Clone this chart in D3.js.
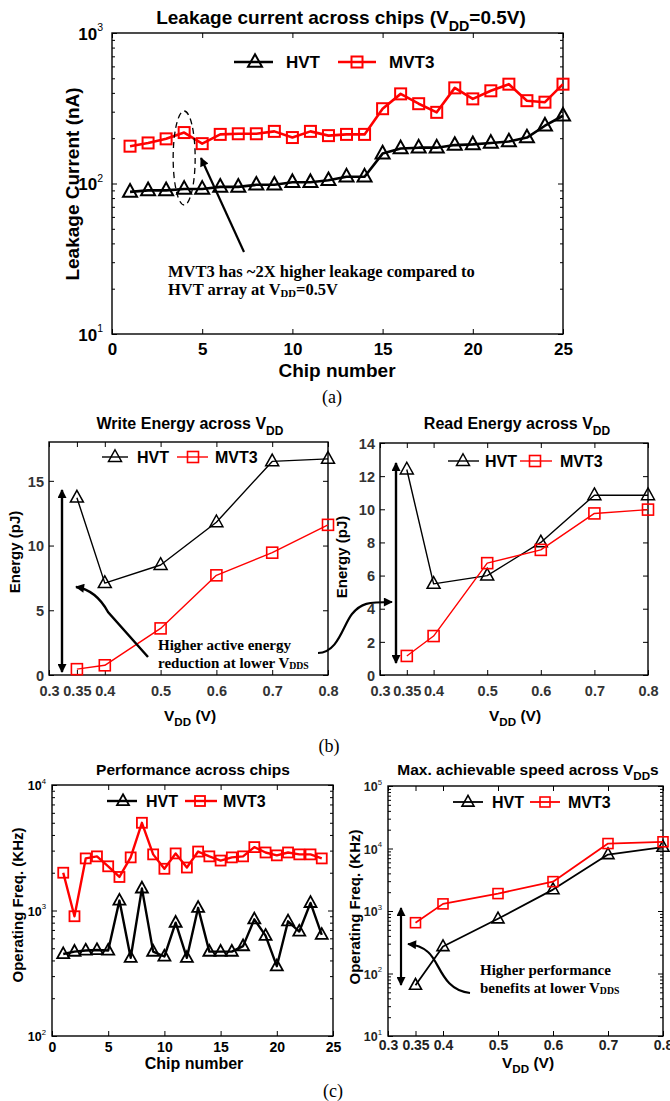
<!DOCTYPE html>
<html>
<head>
<meta charset="utf-8">
<script src="https://cdn.jsdelivr.net/npm/d3@7"></script>
<style>
  body { margin: 0; background: #fff; }
  svg { display: block; }
  text { font-family: "Liberation Sans", Arial, sans-serif; }
  .serif { font-family: "Liberation Serif", "Times New Roman", serif; }
</style>
</head>
<body>
<svg id="chart" width="670" height="1101"></svg>
<script>
// ---- data ----
// (a) leakage at VDD=0.5V, nA
const chipsA = [1, 2, 3, 4, 5, 6, 7, 8, 9, 10, 11, 12, 13, 14, 15, 16, 17, 18, 19, 20, 21, 22, 23, 24, 25];
const leakHVT = [88, 90, 90, 92, 92, 95, 95, 98, 98, 102, 102, 105, 111, 111, 158, 171, 173, 173, 180, 182, 186, 190, 202, 242, 282];
const leakMVT3 = [177, 186, 198, 218, 184, 212, 214, 214, 222, 202, 222, 208, 212, 212, 314, 394, 339, 297, 432, 365, 413, 457, 355, 347, 457];
// (b) energy vs VDD, pJ
const vdd = [0.35, 0.4, 0.5, 0.6, 0.7, 0.8];
const writeHVT = [13.7, 7.1, 8.5, 11.8, 16.5, 16.7];
const writeMVT3 = [0.45, 0.75, 3.6, 7.7, 9.45, 11.6];
const readHVT = [12.4, 5.5, 6.0, 8.0, 10.85, 10.85];
const readMVT3 = [1.15, 2.35, 6.75, 7.55, 9.75, 9.98];
// (c) operating frequency, KHz
const chipsC = [1, 2, 3, 4, 5, 6, 7, 8, 9, 10, 11, 12, 13, 14, 15, 16, 17, 18, 19, 20, 21, 22, 23, 24];
const perfHVT = [450, 470, 480, 485, 480, 1200, 420, 1500, 470, 430, 800, 420, 1050, 470, 470, 470, 520, 850, 630, 360, 820, 680, 1150, 640];
const perfMVT3 = [2000, 900, 2600, 2700, 2250, 1850, 2650, 5000, 2800, 2150, 2850, 2200, 2950, 2700, 2500, 2650, 2700, 3200, 2900, 2750, 2900, 2800, 2800, 2600];
const speedHVT = [65, 270, 750, 2200, 8000, 10500];
const speedMVT3 = [650, 1300, 1900, 2950, 12000, 12800];
// tick labels
const chipTicks = [0, 5, 10, 15, 20, 25];
const vddTicks = [0.3, 0.35, 0.4, 0.5, 0.6, 0.7, 0.8];
const writeTicks = [0, 5, 10, 15];
const readTicks = [0, 2, 4, 6, 8, 10, 12, 14];

const svg = d3.select("#chart");

// arrow heads
const defs = svg.append("defs");
defs.append("marker")
    .attr("id", "ah")
    .attr("viewBox", "0 0 10 10")
    .attr("refX", 9).attr("refY", 5)
    .attr("markerUnits", "userSpaceOnUse")
    .attr("markerWidth", 12).attr("markerHeight", 9)
    .attr("orient", "auto-start-reverse")
    .append("path").attr("d", "M0,0 L10,5 L0,10 Z").attr("fill", "#000");

function triPath(s) {
    var h = s * 0.9;
    return "M0," + (-h * 0.62) + " L" + (s / 2) + "," + (h * 0.38) + " L" + (-s / 2) + "," + (h * 0.38) + " Z";
}

// build one axes box with matlab-like inward ticks
function panel(o) {
    var g = svg.append("g");
    var x = d3.scaleLinear().domain(o.xd).range([o.l, o.r]);
    var y = (o.log ? d3.scaleLog() : d3.scaleLinear()).domain(o.yd).range([o.b, o.t]);
    var yMajor = o.log ? y.ticks().filter(function(v) { return Math.abs(Math.log10(v) % 1) < 1e-9; }) : o.yTicks;
    var yMinor = o.log ? y.ticks().filter(function(v) { return yMajor.indexOf(v) < 0; }) : [];

    function clean(sel) { sel.select(".domain").remove(); sel.selectAll("line").attr("stroke", "#000"); }

    // ticks (inside, all four sides)
    g.append("g").attr("transform", "translate(0," + o.b + ")")
        .call(d3.axisBottom(x).tickValues(o.xTicks).tickSize(-5).tickFormat("")).call(clean);
    g.append("g").attr("transform", "translate(0," + o.t + ")")
        .call(d3.axisTop(x).tickValues(o.xTicks).tickSize(-5).tickFormat("")).call(clean);
    g.append("g").attr("transform", "translate(" + o.l + ",0)")
        .call(d3.axisLeft(y).tickValues(yMajor).tickSize(-5).tickFormat("")).call(clean);
    g.append("g").attr("transform", "translate(" + o.r + ",0)")
        .call(d3.axisRight(y).tickValues(yMajor).tickSize(-5).tickFormat("")).call(clean);
    if (yMinor.length) {
        g.append("g").attr("transform", "translate(" + o.l + ",0)")
            .call(d3.axisLeft(y).tickValues(yMinor).tickSize(-3).tickFormat("")).call(clean);
        g.append("g").attr("transform", "translate(" + o.r + ",0)")
            .call(d3.axisRight(y).tickValues(yMinor).tickSize(-3).tickFormat("")).call(clean);
    }

    // x tick labels
    var xl = g.append("g").attr("transform", "translate(0," + o.b + ")")
        .call(d3.axisBottom(x).tickValues(o.xTicks).tickSize(0).tickFormat(o.xFmt || d3.format("")));
    xl.select(".domain").remove();
    xl.selectAll("text").attr("y", o.xLabY - o.b).attr("dy", 0)
        .attr("font-family", null).attr("font-size", o.tick).attr("font-weight", "bold").attr("fill", o.tickColor);

    // y tick labels
    var yl = g.append("g").attr("transform", "translate(" + o.l + ",0)")
        .call(d3.axisLeft(y).tickValues(yMajor).tickSize(0).tickPadding(o.yPad)
            .tickFormat(o.log ? function() { return "10"; } : d3.format("")));
    yl.select(".domain").remove();
    yl.selectAll("text").attr("font-family", null).attr("font-size", o.ytick || o.tick)
        .attr("font-weight", "bold").attr("fill", o.tickColor).attr("dy", "0.36em");
    if (o.log) {
        yl.selectAll("text").append("tspan")
            .attr("font-size", (o.ytick || o.tick) * 0.62).attr("font-weight", "normal")
            .attr("dy", -(o.ytick || o.tick) * 0.5)
            .text(function(d) { return Math.round(Math.log10(d)); });
    }

    // box
    g.append("rect").attr("x", o.l).attr("y", o.t)
        .attr("width", o.r - o.l).attr("height", o.b - o.t)
        .attr("fill", "none").attr("stroke", "#000").attr("stroke-width", 1.4);

    return { g: g, x: x, y: y };
}

function series(p, xs, ys, color, lw, marker, ms, mw) {
    var pts = xs.map(function(v, i) { return [v, ys[i]]; });
    var line = d3.line().x(function(d) { return p.x(d[0]); }).y(function(d) { return p.y(d[1]); });
    p.g.append("path").datum(pts).attr("d", line)
        .attr("fill", "none").attr("stroke", color).attr("stroke-width", lw).attr("stroke-linejoin", "round");
    var m = p.g.selectAll(null).data(pts).enter();
    if (marker === "tri") {
        m.append("path").attr("d", triPath(ms))
            .attr("transform", function(d) { return "translate(" + p.x(d[0]) + "," + p.y(d[1]) + ")"; })
            .attr("fill", "none").attr("stroke", color).attr("stroke-width", mw);
    } else {
        m.append("rect").attr("x", function(d) { return p.x(d[0]) - ms / 2; })
            .attr("y", function(d) { return p.y(d[1]) - ms / 2; })
            .attr("width", ms).attr("height", ms)
            .attr("fill", "none").attr("stroke", color).attr("stroke-width", mw);
    }
}

function legendItem(x1, x2, xm, y, color, lw, marker, ms, mw, label, tx, fs) {
    svg.append("line").attr("x1", x1).attr("x2", x2).attr("y1", y).attr("y2", y)
        .attr("stroke", color).attr("stroke-width", lw);
    if (marker === "tri") {
        svg.append("path").attr("d", triPath(ms)).attr("transform", "translate(" + xm + "," + y + ")")
            .attr("fill", "none").attr("stroke", color).attr("stroke-width", mw);
    } else {
        svg.append("rect").attr("x", xm - ms / 2).attr("y", y - ms / 2).attr("width", ms).attr("height", ms)
            .attr("fill", "none").attr("stroke", color).attr("stroke-width", mw);
    }
    svg.append("text").attr("x", tx).attr("y", y + fs * 0.36)
        .attr("font-size", fs).attr("font-weight", "bold").text(label);
}

// text with a subscript piece: parts = [[text, sub?], ...]
function richText(x, y, parts, fs, opts) {
    opts = opts || {};
    var t = svg.append("text").attr("x", x).attr("y", y).attr("font-size", fs)
        .attr("font-weight", "bold").attr("text-anchor", opts.anchor || "start");
    if (opts.serif) t.attr("class", "serif");
    if (opts.rotate) t.attr("transform", "rotate(-90," + x + "," + y + ")");
    var prevSub = false;
    parts.forEach(function(pt) {
        var s = t.append("tspan").text(pt[0]);
        var off = opts.subOff || fs * 0.35;
        if (pt[1] && !prevSub) s.attr("dy", off).attr("font-size", fs * (opts.subScale || 0.75));
        if (!pt[1] && prevSub) s.attr("dy", -off);
        prevSub = !!pt[1];
    });
    return t;
}

// ================= (a) =================
var pa = panel({ l: 112, r: 563, t: 33, b: 334, xd: [0, 25], yd: [10, 1000], log: true,
    xTicks: chipTicks, xLabY: 355, tick: 17, ytick: 17, yPad: 9, tickColor: "#000" });
series(pa, chipsA, leakHVT, "#000", 2.6, "tri", 14, 2);
series(pa, chipsA, leakMVT3, "#ff0000", 2.6, "sq", 11, 2);
richText(341, 24, [["Leakage current across chips (V"], ["DD", true], ["=0.5V)"]], 19, { anchor: "middle" });
legendItem(234, 273, 255, 62, "#000", 2.6, "tri", 14, 2, "HVT", 286, 17);
legendItem(338, 376, 357, 62, "#ff0000", 2.6, "sq", 11, 2, "MVT3", 389, 17);
svg.append("text").attr("x", 337).attr("y", 377).attr("text-anchor", "middle")
    .attr("font-size", 19).attr("font-weight", "bold").text("Chip number");
svg.append("text").attr("transform", "translate(79,184) rotate(-90)").attr("text-anchor", "middle")
    .attr("font-size", 19).attr("font-weight", "bold").text("Leakage Current (nA)");
// highlighted chip 4
svg.append("ellipse").attr("cx", pa.x(4)).attr("cy", 158).attr("rx", 11).attr("ry", 47)
    .attr("fill", "none").attr("stroke", "#000").attr("stroke-width", 1.3).attr("stroke-dasharray", "6,4");
svg.append("line").attr("x1", 244).attr("y1", 252).attr("x2", 201).attr("y2", 158)
    .attr("stroke", "#000").attr("stroke-width", 2.2).attr("marker-end", "url(#ah)");
richText(168, 277, [["MVT3 has ~2X higher leakage compared to"]], 16.5, { serif: true });
richText(168, 295, [["HVT array at V"], ["DD", true], ["=0.5V"]], 16.5, { serif: true, subScale: 0.65, subOff: 1.5 });
svg.append("text").attr("class", "serif").attr("x", 332).attr("y", 403).attr("text-anchor", "middle")
    .attr("font-size", 18).text("(a)");

// ================= (b) =================
var pb1 = panel({ l: 49, r: 328, t: 442, b: 675, xd: [0.3, 0.8], yd: [0, 18],
    xTicks: vddTicks, yTicks: writeTicks, xLabY: 696, tick: 14.5, yPad: 5, tickColor: "#333" });
series(pb1, vdd, writeHVT, "#000", 1.4, "tri", 13, 1.5);
series(pb1, vdd, writeMVT3, "#ff0000", 1.4, "sq", 11, 1.6);
richText(190, 429, [["Write Energy across V"], ["DD", true]], 16, { anchor: "middle" });
legendItem(102, 128, 115, 457, "#000", 1.4, "tri", 13, 1.5, "HVT", 137, 16);
legendItem(177, 208, 193, 457, "#ff0000", 1.4, "sq", 11, 1.6, "MVT3", 215, 16);
richText(20, 552, [["Energy (pJ)"]], 15, { anchor: "middle", rotate: true });
richText(190, 721, [["V"], ["DD", true], [" (V)"]], 15.5, { anchor: "middle" });
svg.append("line").attr("x1", 62).attr("x2", 62).attr("y1", 490).attr("y2", 672)
    .attr("stroke", "#000").attr("stroke-width", 2.4)
    .attr("marker-start", "url(#ah)").attr("marker-end", "url(#ah)");
svg.append("path").attr("d", "M148,657 L108,612 Q96,590 76,587")
    .attr("fill", "none").attr("stroke", "#000").attr("stroke-width", 2.4).attr("marker-end", "url(#ah)");
richText(158, 650, [["Higher active energy"]], 15, { serif: true });
richText(158, 668, [["reduction at lower V"], ["DDS", true]], 15, { serif: true, subScale: 0.65, subOff: 1 });
// link to the read-energy panel
svg.append("path").attr("d", "M318,653 C338,653 343,625 352,614 S368,602 392,602")
    .attr("fill", "none").attr("stroke", "#000").attr("stroke-width", 2.2).attr("marker-end", "url(#ah)");

var pb2 = panel({ l: 380, r: 648, t: 443, b: 675, xd: [0.3, 0.8], yd: [0, 14],
    xTicks: vddTicks, yTicks: readTicks, xLabY: 696, tick: 14.5, yPad: 5, tickColor: "#333" });
series(pb2, vdd, readHVT, "#000", 1.4, "tri", 13, 1.5);
series(pb2, vdd, readMVT3, "#ff0000", 1.4, "sq", 11, 1.6);
richText(517, 429, [["Read Energy across V"], ["DD", true]], 16, { anchor: "middle" });
legendItem(448, 479, 463, 461, "#000", 1.4, "tri", 13, 1.5, "HVT", 485, 16);
legendItem(520, 552, 535, 461, "#ff0000", 1.4, "sq", 11, 1.6, "MVT3", 560, 16);
richText(347, 557, [["Energy (pJ)"]], 15, { anchor: "middle", rotate: true });
richText(515, 721, [["V"], ["DD", true], [" (V)"]], 15.5, { anchor: "middle" });
svg.append("line").attr("x1", 396).attr("x2", 396).attr("y1", 463).attr("y2", 663)
    .attr("stroke", "#000").attr("stroke-width", 2.4)
    .attr("marker-start", "url(#ah)").attr("marker-end", "url(#ah)");
svg.append("text").attr("class", "serif").attr("x", 329).attr("y", 752).attr("text-anchor", "middle")
    .attr("font-size", 18).text("(b)");

// ================= (c) =================
var pc1 = panel({ l: 52, r: 333, t: 785, b: 1036, xd: [0, 25], yd: [100, 10000], log: true,
    xTicks: chipTicks, xLabY: 1052, tick: 14, ytick: 12.5, yPad: 6, tickColor: "#000" });
series(pc1, chipsC, perfHVT, "#000", 2.4, "tri", 12, 1.8);
series(pc1, chipsC, perfMVT3, "#ff0000", 2.4, "sq", 10, 1.8);
richText(193, 775, [["Performance across chips"]], 15.5, { anchor: "middle" });
legendItem(107, 137, 123, 801, "#000", 2.4, "tri", 12, 1.8, "HVT", 146, 16);
legendItem(185, 217, 200, 801, "#ff0000", 2.4, "sq", 10, 1.8, "MVT3", 223, 16);
richText(194, 1069, [["Chip number"]], 16, { anchor: "middle" });
richText(23, 905, [["Operating Freq. (KHz)"]], 15, { anchor: "middle", rotate: true });

var pc2 = panel({ l: 388, r: 663, t: 786, b: 1036, xd: [0.3, 0.8], yd: [10, 100000], log: true,
    xTicks: vddTicks, xLabY: 1050, tick: 14, ytick: 12.5, yPad: 6, tickColor: "#222" });
series(pc2, vdd, speedHVT, "#000", 1.8, "tri", 12, 1.6);
series(pc2, vdd, speedMVT3, "#ff0000", 1.8, "sq", 10, 1.6);
richText(528, 775, [["Max. achievable speed across V"], ["DD", true], ["s"]], 15.5, { anchor: "middle" });
legendItem(453, 483, 468, 802, "#000", 1.8, "tri", 12, 1.6, "HVT", 492, 16);
legendItem(530, 560, 545, 802, "#ff0000", 1.8, "sq", 10, 1.6, "MVT3", 568, 16);
richText(360, 907, [["Operating Freq. (KHz)"]], 15, { anchor: "middle", rotate: true });
richText(528, 1068, [["V"], ["DD", true], [" (V)"]], 15.5, { anchor: "middle" });
svg.append("line").attr("x1", 401).attr("x2", 401).attr("y1", 908).attr("y2", 985)
    .attr("stroke", "#000").attr("stroke-width", 2.2)
    .attr("marker-start", "url(#ah)").attr("marker-end", "url(#ah)");
svg.append("path").attr("d", "M470,993 C442,990 440,962 428,952 Q420,945 408,944")
    .attr("fill", "none").attr("stroke", "#000").attr("stroke-width", 2.2).attr("marker-end", "url(#ah)");
richText(480, 975, [["Higher performance"]], 15, { serif: true });
richText(480, 993, [["benefits at lower V"], ["DDS", true]], 15, { serif: true, subScale: 0.65, subOff: 1 });
svg.append("text").attr("class", "serif").attr("x", 333).attr("y", 1097).attr("text-anchor", "middle")
    .attr("font-size", 18).text("(c)");
</script>
</body>
</html>
